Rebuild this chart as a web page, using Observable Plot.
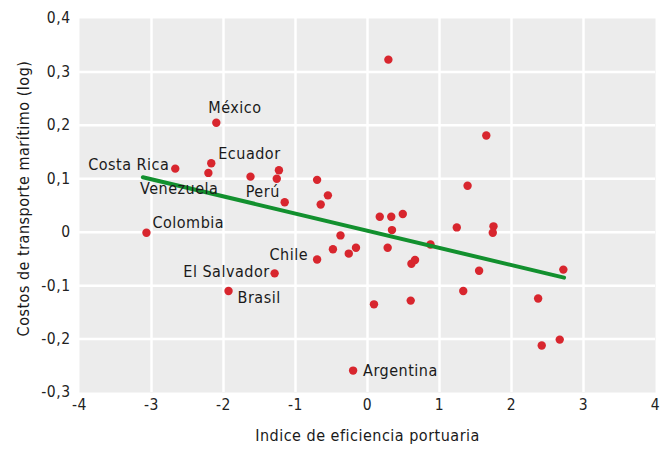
<!DOCTYPE html>
<html>
<head>
<meta charset="utf-8">
<script src="https://cdn.jsdelivr.net/npm/d3@7"></script>
<script src="https://cdn.jsdelivr.net/npm/@observablehq/plot@0.6"></script>
<style>
  html, body { margin: 0; padding: 0; background: #fff; }
  #chart svg { display: block; }
  #chart text { letter-spacing: 0.5px; }
</style>
</head>
<body>
<div id="chart"></div>
<script>
// Data
const countries = ["Colombia","Costa Rica","Ecuador","Venezuela","México","Brasil","","El Salvador","","Perú","","","","","Chile","","","","","Argentina","","","","","","","","","","","","","","","","","","","","","",""];
const xValues = [-3.07,-2.67,-2.17,-2.21,-2.10,-1.93,-1.625,-1.29,-1.23,-1.26,-1.15,-0.70,-0.65,-0.55,-0.70,-0.375,-0.48,-0.26,-0.16,-0.20,0.09,0.17,0.29,0.33,0.49,0.34,0.28,0.61,0.66,0.60,0.875,1.24,1.33,1.39,1.55,1.65,1.75,1.74,2.37,2.42,2.67,2.72];
const yValues = [-0.001,0.119,0.129,0.111,0.205,-0.110,0.104,-0.077,0.116,0.100,0.056,0.098,0.052,0.069,-0.051,-0.006,-0.032,-0.040,-0.029,-0.259,-0.135,0.029,0.323,0.029,0.034,0.004,-0.029,-0.059,-0.052,-0.128,-0.023,0.009,-0.110,0.087,-0.072,0.181,0.011,-0.001,-0.124,-0.212,-0.201,-0.070];
const trendX = [-3.12, 2.73];
const trendY = [0.103, -0.085];
const xTicks = [-4,-3,-2,-1,0,1,2,3,4];
const yTicks = [-0.3,-0.2,-0.1,0,0.1,0.2,0.3,0.4];
const xTitle = "Indice de eficiencia portuaria";
const yTitle = "Costos de transporte marítimo (log)";

const points = countries.map((c, i) => ({name: c, x: xValues[i], y: yValues[i]}));
const trend = trendX.map((x, i) => ({x, y: trendY[i]}));

const FONT = "'DejaVu Sans Condensed', 'DejaVu Sans', sans-serif";
const fmtY = d => d === 0 ? "0" : d.toFixed(1).replace(".", ",");
const fmtX = d => String(d);

function label(name, opts) {
  return Plot.text(points.filter(p => p.name === name), {
    x: "x", y: "y", text: "name", fill: "#1a1a1a", fontSize: 16, ...opts
  });
}

const chart = Plot.plot({
  width: 660,
  height: 451,
  marginLeft: 79,
  marginRight: 5,
  marginTop: 18,
  marginBottom: 59,
  style: {fontFamily: FONT, background: "#fff", color: "#222"},
  x: {domain: [-4, 4]},
  y: {domain: [-0.3, 0.4]},
  marks: [
    Plot.frame({fill: "#ececec"}),
    Plot.ruleX(xTicks.slice(1, -1), {stroke: "white", strokeWidth: 2.5}),
    Plot.ruleY(yTicks.slice(1, -1), {stroke: "white", strokeWidth: 2.5}),
    Plot.axisX({ticks: xTicks, tickSize: 0, tickPadding: 6, tickFormat: fmtX, fontSize: 15.5, label: null}),
    Plot.axisY({ticks: yTicks, tickSize: 0, tickPadding: 9, tickFormat: fmtY, fontSize: 15.5, label: null}),
    Plot.text([xTitle], {frameAnchor: "bottom", dy: 48, fontSize: 16, fill: "#1a1a1a"}),
    Plot.text([yTitle], {frameAnchor: "left", textAnchor: "middle", rotate: -90, dx: -56, dy: -7, fontSize: 16, fill: "#1a1a1a"}),
    Plot.dot(points, {x: "x", y: "y", r: 4.2, fill: "#d8262e", stroke: null}),
    Plot.line(trend, {x: "x", y: "y", stroke: "#12902e", strokeWidth: 4}),
    label("Colombia", {textAnchor: "start", dx: 6, dy: -10}),
    label("Costa Rica", {textAnchor: "end", dx: -6, dy: -4}),
    label("Ecuador", {textAnchor: "start", dx: 7, dy: -9}),
    label("Venezuela", {textAnchor: "end", dx: 10, dy: 16}),
    label("México", {textAnchor: "start", dx: -8, dy: -15}),
    label("Brasil", {textAnchor: "start", dx: 9, dy: 7}),
    label("El Salvador", {textAnchor: "end", dx: -5, dy: -1}),
    label("Perú", {textAnchor: "end", dx: 3, dy: 13}),
    label("Chile", {textAnchor: "end", dx: -9, dy: -5}),
    label("Argentina", {textAnchor: "start", dx: 10, dy: 0})
  ]
});
document.getElementById("chart").appendChild(chart);
</script>
</body>
</html>
